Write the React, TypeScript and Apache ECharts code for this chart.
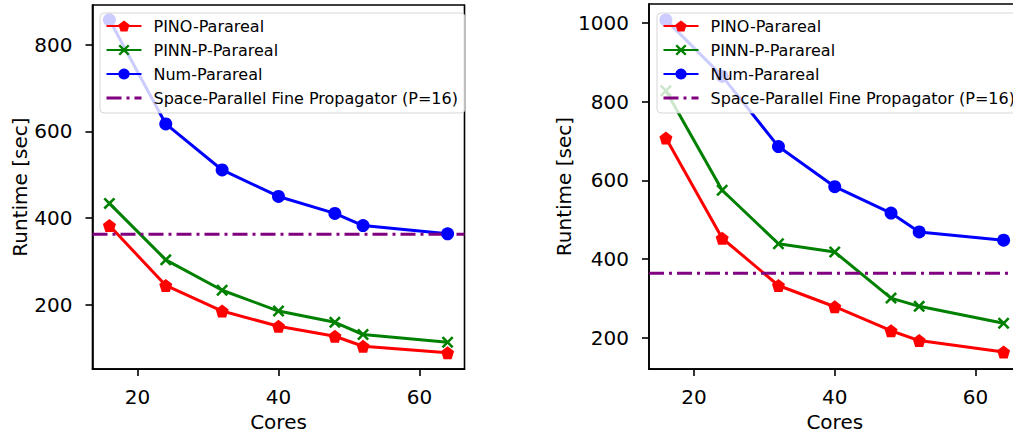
import React, { useEffect, useRef } from "react";
import * as echarts from "echarts";

const cores = [16, 24, 32, 40, 48, 52, 64];
const pinoLeft = [383, 245, 186, 151, 128, 105, 90];
const pinnLeft = [434, 304, 234, 186, 160, 132, 114];
const numLeft = [857, 617, 511, 450, 411, 383, 364];
const fineLeft = 363;
const pinoRight = [708, 453, 333, 279, 218, 193, 164];
const pinnRight = [828, 575, 439, 418, 301, 280, 237];
const numRight = [1008, 865, 686, 584, 517, 469, 448];
const fineRight = 364;
const xTicks = [20, 40, 60];
const yTicksLeft = [200, 400, 600, 800];
const yTicksRight = [200, 400, 600, 800, 1000];
const names = [
  "PINO-Parareal",
  "PINN-P-Parareal",
  "Num-Parareal",
  "Space-Parallel Fine Propagator (P=16)",
];

const FONT = "DejaVu Sans";
const PENTAGON = "path://M5,0L10,3.82L8.09,10L1.91,10L0,3.82Z";
const CROSS =
  "path://M0,1.5L1.5,0L5,3.5L8.5,0L10,1.5L6.5,5L10,8.5L8.5,10L5,6.5L1.5,10L0,8.5L3.5,5Z";
const DASHDOT = [15, 5, 3, 5];
const X_MIN = 13.6;
const X_MAX = 66.4;

const pairs = (ys: number[]) => cores.map((c, i) => [c, ys[i]]);

function makeSeries(idx: number, pino: number[], pinn: number[], num: number[], fine: number) {
  const common = {
    type: "line",
    xAxisIndex: idx,
    yAxisIndex: idx,
    silent: true,
    emphasis: { disabled: true },
  };
  return [
    {
      ...common,
      name: names[0],
      data: pairs(pino),
      symbol: PENTAGON,
      symbolSize: 13,
      itemStyle: { color: "#ff0000" },
      lineStyle: { color: "#ff0000", width: 3 },
    },
    {
      ...common,
      name: names[1],
      data: pairs(pinn),
      symbol: CROSS,
      symbolSize: 12,
      itemStyle: { color: "#008000" },
      lineStyle: { color: "#008000", width: 3 },
    },
    {
      ...common,
      name: names[2],
      data: pairs(num),
      symbol: "circle",
      symbolSize: 13,
      itemStyle: { color: "#0000ff" },
      lineStyle: { color: "#0000ff", width: 3 },
    },
    {
      ...common,
      name: names[3],
      data: [
        [X_MIN, fine],
        [X_MAX, fine],
      ],
      symbol: "none",
      itemStyle: { color: "#800080" },
      lineStyle: { color: "#800080", width: 3, type: DASHDOT },
    },
  ];
}

function xAxis(idx: number) {
  return {
    type: "value",
    gridIndex: idx,
    min: X_MIN,
    max: X_MAX,
    name: "Cores",
    nameLocation: "middle",
    nameGap: 40,
    nameTextStyle: { fontFamily: FONT, fontSize: 20, color: "#000" },
    axisLine: { show: true, onZero: false, lineStyle: { color: "#000", width: 1.6 } },
    axisTick: { show: true, length: 7, customValues: xTicks, lineStyle: { color: "#000", width: 1.6 } },
    axisLabel: {
      customValues: xTicks,
      margin: 18,
      fontFamily: FONT,
      fontSize: 20,
      color: "#000",
      formatter: (v: number) => String(v),
    },
    splitLine: { show: false },
  };
}

function yAxis(idx: number, min: number, max: number, ticks: number[]) {
  return {
    type: "value",
    gridIndex: idx,
    min,
    max,
    name: "Runtime [sec]",
    nameLocation: "middle",
    nameGap: 62,
    nameTextStyle: { fontFamily: FONT, fontSize: 20, color: "#000" },
    axisLine: { show: true, onZero: false, lineStyle: { color: "#000", width: 1.6 } },
    axisTick: { show: true, length: 7, customValues: ticks, lineStyle: { color: "#000", width: 1.6 } },
    axisLabel: {
      customValues: ticks,
      margin: 20,
      fontFamily: FONT,
      fontSize: 20,
      color: "#000",
      formatter: (v: number) => String(v),
    },
    splitLine: { show: false },
  };
}

function legend(left: number) {
  return {
    left,
    top: 13,
    orient: "vertical",
    padding: [5, 7, 7, 5],
    itemWidth: 35,
    itemHeight: 14,
    itemGap: 8,
    backgroundColor: "rgba(255,255,255,0.8)",
    borderColor: "rgba(204,204,204,0.8)",
    borderWidth: 1,
    borderRadius: 4,
    selectedMode: false,
    textStyle: { fontFamily: FONT, fontSize: 16, color: "#000", padding: [0, 0, 0, 7] },
    data: [
      names[0],
      names[1],
      names[2],
      { name: names[3], itemStyle: { opacity: 0 }, lineStyle: { type: DASHDOT, color: "#800080", width: 3 } },
    ],
  };
}

export default function App() {
  const ref = useRef<HTMLDivElement>(null);
  useEffect(() => {
    if (!ref.current) return;
    const chart = echarts.init(ref.current, null, { renderer: "svg" });
    chart.setOption({
      animation: false,
      backgroundColor: "#fff",
      grid: [
        { left: 92.5, top: 5, width: 372, height: 369, show: true, borderColor: "#000", borderWidth: 1.6 },
        { left: 649, top: 4, width: 371.5, height: 370, show: true, borderColor: "#000", borderWidth: 1.6 },
      ],
      xAxis: [xAxis(0), xAxis(1)],
      yAxis: [yAxis(0, 52.3, 891, yTicksLeft), yAxis(1, 120.5, 1048.4, yTicksRight)],
      legend: [legend(100), legend(657)],
      series: [
        ...makeSeries(0, pinoLeft, pinnLeft, numLeft, fineLeft),
        ...makeSeries(1, pinoRight, pinnRight, numRight, fineRight),
      ],
    });
    return () => chart.dispose();
  }, []);
  return (
    <div style={{ position: "fixed", left: 0, top: 0, width: 1013, height: 437, overflow: "hidden", background: "#fff" }}>
      <div ref={ref} style={{ width: 1040, height: 437 }} />
    </div>
  );
}
